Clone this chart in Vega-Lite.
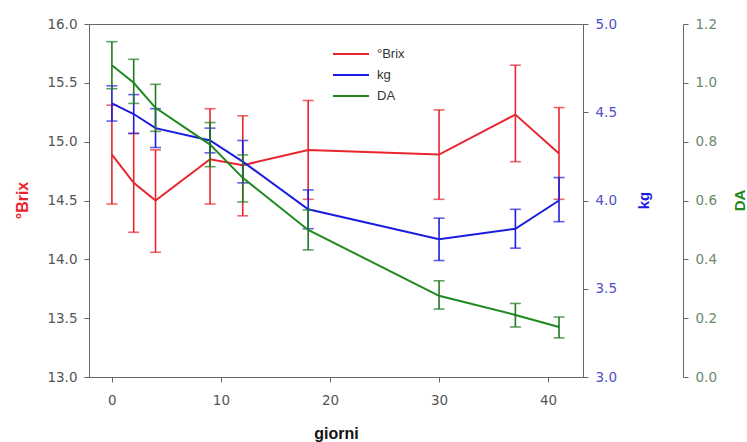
{
  "$schema": "https://vega.github.io/schema/vega-lite/v6.json",
  "width": 494,
  "height": 353,
  "autosize": "none",
  "padding": {"left": 89, "top": 24, "right": 164, "bottom": 65},
  "background": "white",
  "config": {
    "view": {"stroke": "#666666", "strokeWidth": 1},
    "font": "DejaVu Sans",
    "axis": {"grid": false, "domainColor": "#666666", "tickColor": "#666666", "labelFont": "DejaVu Sans", "labelFontSize": 13.5, "titleFont": "Liberation Sans"}
  },
  "data": {"values": [
    {"day": 0, "brix": 14.89, "brix_lo": 14.47, "brix_hi": 15.31, "kg": 4.55, "kg_lo": 4.45, "kg_hi": 4.65, "da": 1.06, "da_lo": 0.98, "da_hi": 1.14},
    {"day": 2, "brix": 14.65, "brix_lo": 14.23, "brix_hi": 15.07, "kg": 4.49, "kg_lo": 4.38, "kg_hi": 4.60, "da": 1.00, "da_lo": 0.93, "da_hi": 1.08},
    {"day": 4, "brix": 14.50, "brix_lo": 14.06, "brix_hi": 14.93, "kg": 4.41, "kg_lo": 4.30, "kg_hi": 4.52, "da": 0.915, "da_lo": 0.835, "da_hi": 0.995},
    {"day": 9, "brix": 14.85, "brix_lo": 14.47, "brix_hi": 15.28, "kg": 4.34, "kg_lo": 4.27, "kg_hi": 4.41, "da": 0.79, "da_lo": 0.715, "da_hi": 0.865},
    {"day": 12, "brix": 14.80, "brix_lo": 14.37, "brix_hi": 15.22, "kg": 4.22, "kg_lo": 4.10, "kg_hi": 4.34, "da": 0.677, "da_lo": 0.595, "da_hi": 0.755},
    {"day": 18, "brix": 14.93, "brix_lo": 14.51, "brix_hi": 15.35, "kg": 3.95, "kg_lo": 3.84, "kg_hi": 4.06, "da": 0.50, "da_lo": 0.432, "da_hi": 0.568},
    {"day": 30, "brix": 14.89, "brix_lo": 14.51, "brix_hi": 15.27, "kg": 3.78, "kg_lo": 3.66, "kg_hi": 3.90, "da": 0.276, "da_lo": 0.231, "da_hi": 0.327},
    {"day": 37, "brix": 15.23, "brix_lo": 14.83, "brix_hi": 15.65, "kg": 3.84, "kg_lo": 3.73, "kg_hi": 3.95, "da": 0.211, "da_lo": 0.17, "da_hi": 0.25},
    {"day": 41, "brix": 14.90, "brix_lo": 14.51, "brix_hi": 15.29, "kg": 4.00, "kg_lo": 3.88, "kg_hi": 4.13, "da": 0.17, "da_lo": 0.133, "da_hi": 0.204}
  ]},
  "encoding": {
    "x": {"field": "day", "type": "quantitative",
      "scale": {"domain": [-2.1, 43.2], "nice": false, "zero": false},
      "axis": {"values": [0, 10, 20, 30, 40], "title": "giorni", "titleFontSize": 16, "titleFontWeight": "bold", "titleColor": "#111111", "titleY": 56, "titleBaseline": "middle", "labelColor": "#555555", "labelPadding": 11, "tickSize": 5}}
  },
  "layer": [
    {
      "layer": [
        {"mark": {"type": "line", "strokeWidth": 2, "color": "#e8242c"},
         "encoding": {"y": {"field": "brix", "type": "quantitative", "scale": {"domain": [13, 16], "nice": false, "zero": false},
            "axis": {"orient": "left", "title": "°Brix", "values": [13, 13.5, 14, 14.5, 15, 15.5, 16], "format": ".1f", "labelColor": "#555555", "labelPadding": 7, "tickSize": 5, "titleColor": "#e8242c", "titleFontSize": 16, "titleFontWeight": "bold", "titleX": -67, "titleY": 176, "titleAngle": 270, "titleBaseline": "middle"}},
           "color": {"datum": "°Brix", "type": "nominal", "scale": {"domain": ["°Brix", "kg", "DA"], "range": ["#e8242c", "#1c1ce0", "#1e8a1e"]},
             "legend": {"orient": "none", "legendX": 252, "legendY": 20, "title": null, "symbolType": "M-2,0H2", "symbolSize": 324, "symbolStrokeWidth": 2, "labelFontSize": 13, "labelFont": "Liberation Sans", "labelColor": "#333333", "rowPadding": 4, "labelOffset": 16}}}},
        {"mark": {"type": "rule", "strokeWidth": 1.6, "color": "#e8242c"},
         "encoding": {"y": {"field": "brix_lo", "type": "quantitative"}, "y2": {"field": "brix_hi"}}},
        {"mark": {"type": "tick", "orient": "horizontal", "size": 11, "thickness": 1.6, "color": "#e8242c"},
         "encoding": {"y": {"field": "brix_lo", "type": "quantitative"}}},
        {"mark": {"type": "tick", "orient": "horizontal", "size": 11, "thickness": 1.6, "color": "#e8242c"},
         "encoding": {"y": {"field": "brix_hi", "type": "quantitative"}}}
      ]
    },
    {
      "layer": [
        {"mark": {"type": "line", "strokeWidth": 2, "color": "#1c1ce0"},
         "encoding": {"y": {"field": "kg", "type": "quantitative", "scale": {"domain": [3, 5], "nice": false, "zero": false},
            "axis": {"orient": "right", "title": "kg", "values": [3, 3.5, 4, 4.5, 5], "format": ".1f", "labelColor": "#5050c8", "labelPadding": 7, "tickSize": 5, "titleColor": "#1c1ce0", "titleFontSize": 15, "titleFontWeight": "bold", "titleX": 60, "titleY": 176, "titleAngle": 270, "titleBaseline": "middle"}},
           "color": {"datum": "kg", "type": "nominal"}}},
        {"mark": {"type": "rule", "strokeWidth": 1.6, "color": "#1c1ce0"},
         "encoding": {"y": {"field": "kg_lo", "type": "quantitative"}, "y2": {"field": "kg_hi"}}},
        {"mark": {"type": "tick", "orient": "horizontal", "size": 11, "thickness": 1.6, "color": "#1c1ce0"},
         "encoding": {"y": {"field": "kg_lo", "type": "quantitative"}}},
        {"mark": {"type": "tick", "orient": "horizontal", "size": 11, "thickness": 1.6, "color": "#1c1ce0"},
         "encoding": {"y": {"field": "kg_hi", "type": "quantitative"}}}
      ]
    },
    {
      "layer": [
        {"mark": {"type": "line", "strokeWidth": 2, "color": "#1e8a1e"},
         "encoding": {"y": {"field": "da", "type": "quantitative", "scale": {"domain": [0, 1.2], "nice": false, "zero": false},
            "axis": {"orient": "right", "offset": 100, "title": "DA", "values": [0, 0.2, 0.4, 0.6, 0.8, 1.0, 1.2], "format": ".1f", "labelColor": "#6a8a6a", "labelPadding": 7, "tickSize": 5, "titleColor": "#1e8a1e", "titleFontSize": 15, "titleFontWeight": "bold", "titleX": 56, "titleY": 176, "titleAngle": 270, "titleBaseline": "middle"}},
           "color": {"datum": "DA", "type": "nominal"}}},
        {"mark": {"type": "rule", "strokeWidth": 1.6, "color": "#1e7a1e"},
         "encoding": {"y": {"field": "da_lo", "type": "quantitative"}, "y2": {"field": "da_hi"}}},
        {"mark": {"type": "tick", "orient": "horizontal", "size": 11, "thickness": 1.6, "color": "#1e7a1e"},
         "encoding": {"y": {"field": "da_lo", "type": "quantitative"}}},
        {"mark": {"type": "tick", "orient": "horizontal", "size": 11, "thickness": 1.6, "color": "#1e7a1e"},
         "encoding": {"y": {"field": "da_hi", "type": "quantitative"}}}
      ]
    }
  ],
  "resolve": {"scale": {"y": "independent"}}
}
